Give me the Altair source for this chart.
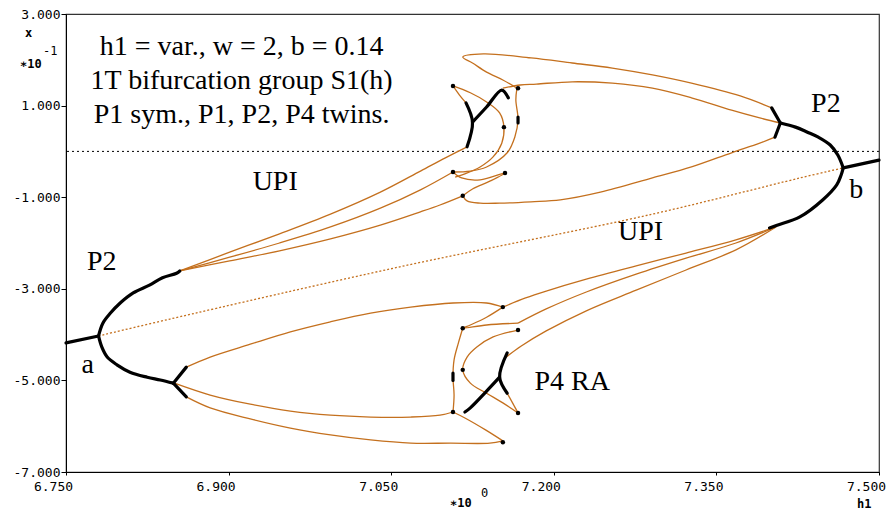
import altair as alt
import pandas as pd

# ---------------- data (h1, x*10) ----------------
# stable branches (black, thick)
p1_left = [(6.750, -4.18), (6.780, -4.03)]
p2_left_up = [(6.780, -4.03), (6.784, -3.75), (6.791, -3.53), (6.800, -3.31), (6.812, -3.09), (6.827, -2.92),
              (6.839, -2.76), (6.852, -2.66), (6.855, -2.61)]
p2_left_dn = [(6.780, -4.03), (6.783, -4.27), (6.788, -4.49), (6.797, -4.66), (6.809, -4.82), (6.825, -4.93),
              (6.837, -4.99), (6.849, -5.06)]
pd_left_up = [(6.849, -5.06), (6.861, -4.71)]
pd_left_dn = [(6.849, -5.06), (6.861, -5.36)]
p1_right = [(7.467, -0.36), (7.500, -0.19)]
p2_right_up = [(7.467, -0.36), (7.462, -0.08), (7.455, 0.14), (7.444, 0.31), (7.434, 0.42), (7.423, 0.53), (7.409, 0.62)]
p2_right_dn = [(7.467, -0.36), (7.465, -0.52), (7.461, -0.73), (7.448, -1.06), (7.427, -1.43), (7.406, -1.61), (7.399, -1.67)]
pd_right_up = [(7.409, 0.62), (7.401, 0.95)]
pd_right_dn = [(7.409, 0.62), (7.404, 0.31)]
p4_up_stem = [(7.120, 0.10), (7.125, 0.64), (7.119, 1.06)]
p4_up_arm = [(7.125, 0.64), (7.138, 0.97), (7.152, 1.34), (7.158, 1.17)]
p4_up_fold = [(7.167, 0.75), (7.167, 0.62)]
p4_lo_stem = [(7.157, -4.40), (7.150, -4.93), (7.157, -5.28)]
p4_lo_arm = [(7.150, -4.93), (7.137, -5.26), (7.123, -5.60), (7.118, -5.69)]
p4_lo_fold = [(7.107, -4.84), (7.107, -5.00)]

# unstable branches (orange, thin)
u_top_outer = [(7.401, 0.95), (7.372, 1.21), (7.327, 1.49), (7.291, 1.67), (7.254, 1.82), (7.217, 1.93), (7.179, 2.04),
               (7.135, 2.13), (7.116, 2.06), (7.125, 1.93), (7.138, 1.73), (7.153, 1.56), (7.166, 1.38)]
u_top_inner = [(7.153, 1.38), (7.169, 1.45), (7.184, 1.47), (7.217, 1.52), (7.254, 1.49), (7.291, 1.38), (7.327, 1.17),
               (7.364, 0.90), (7.390, 0.73), (7.409, 0.62)]
u_cres_outer = [(7.166, 1.38), (7.165, 1.12), (7.167, 0.69), (7.164, 0.31), (7.157, -0.03), (7.138, -0.34), (7.123, -0.43), (7.107, -0.45)]
u_cres_inner = [(7.107, 1.43), (7.123, 1.28), (7.138, 1.08), (7.150, 0.84), (7.154, 0.53), (7.152, 0.18), (7.144, -0.12),
                (7.132, -0.34), (7.118, -0.49), (7.109, -0.56)]
u_arm_link = [(7.107, 1.43), (7.113, 1.23), (7.119, 1.06)]
u_zigzag = [(7.107, -0.45), (7.115, -0.58), (7.132, -0.62), (7.155, -0.47), (7.141, -0.65), (7.125, -0.82), (7.116, -0.97)]
u_bottom = [(7.404, 0.31), (7.390, 0.18), (7.364, -0.03), (7.327, -0.34), (7.291, -0.58), (7.243, -0.89), (7.206, -1.06),
            (7.179, -1.10), (7.150, -1.13), (7.132, -1.13), (7.120, -1.08), (7.116, -0.97)]
u_link_1 = [(6.855, -2.61), (6.901, -2.20), (6.947, -1.80), (6.994, -1.37), (7.040, -0.89), (7.077, -0.43), (7.100, -0.14), (7.120, 0.10)]
u_link_2 = [(6.855, -2.61), (6.901, -2.31), (6.947, -2.00), (6.994, -1.65), (7.040, -1.24), (7.077, -0.84), (7.107, -0.45)]
u_link_3 = [(6.855, -2.61), (6.901, -2.39), (6.947, -2.17), (6.994, -1.91), (7.040, -1.61), (7.077, -1.32), (7.095, -1.17), (7.116, -0.97)]

l_top = [(6.861, -4.71), (6.883, -4.49), (6.920, -4.21), (6.957, -3.94), (6.994, -3.72), (7.031, -3.53), (7.068, -3.40),
         (7.107, -3.31), (7.138, -3.31), (7.153, -3.40)]
l_mid = [(6.850, -5.06), (6.883, -5.32), (6.920, -5.52), (6.957, -5.67), (6.994, -5.76), (7.031, -5.80), (7.068, -5.80),
         (7.095, -5.76), (7.107, -5.69)]
l_low = [(6.861, -5.36), (6.883, -5.60), (6.920, -5.84), (6.957, -6.04), (6.994, -6.19), (7.031, -6.30), (7.068, -6.37),
         (7.105, -6.37), (7.141, -6.37), (7.153, -6.32)]
l_low_back = [(7.153, -6.32), (7.137, -6.08), (7.118, -5.82), (7.107, -5.69)]
l_zigzag = [(7.153, -3.40), (7.138, -3.62), (7.123, -3.79), (7.116, -3.86), (7.138, -3.79), (7.167, -3.75)]
l_cres_outer = [(7.107, -5.69), (7.108, -5.32), (7.107, -4.93), (7.108, -4.55), (7.112, -4.18), (7.116, -3.86)]
l_cres_inner = [(7.167, -5.71), (7.153, -5.49), (7.138, -5.28), (7.123, -5.06), (7.116, -4.77), (7.120, -4.49), (7.129, -4.27),
                (7.144, -4.05), (7.167, -3.90)]
l_arm_link = [(7.157, -5.28), (7.167, -5.71)]
l_link_a = [(7.153, -3.40), (7.174, -3.20), (7.193, -3.05), (7.230, -2.79), (7.276, -2.50), (7.322, -2.22), (7.368, -1.93), (7.405, -1.65)]
l_link_b = [(7.167, -3.75), (7.193, -3.44), (7.230, -3.07), (7.276, -2.68), (7.322, -2.33), (7.368, -2.00), (7.405, -1.65)]
l_link_c = [(7.155, -4.51), (7.170, -4.25), (7.193, -3.92), (7.230, -3.48), (7.276, -3.03), (7.322, -2.59), (7.368, -2.15), (7.405, -1.65)]

# unstable P1 (dotted orange)
upi_p1 = [(6.780, -4.03), (6.846, -3.66), (7.058, -2.52), (7.291, -1.37), (7.427, -0.58), (7.467, -0.36)]

# fold points (black dots)
fold_x = [7.107, 7.167, 7.154, 7.107, 7.155, 7.116, 7.153, 7.116, 7.167, 7.116, 7.107, 7.167, 7.153]
fold_y = [1.43, 1.38, 0.53, -0.45, -0.47, -0.97, -3.40, -3.86, -3.90, -4.77, -5.69, -5.71, -6.35]

# text annotations in data coordinates
note_text = ["h1 = var., w = 2, b = 0.14", "1T bifurcation group S1(h)", "P1 sym., P1, P2, P4 twins.",
             "UPI", "P2", "a", "P2", "b", "UPI", "P4 RA"]
note_x = [6.912, 6.912, 6.912, 6.943, 6.783, 6.770, 7.451, 7.479, 7.280, 7.217]
note_y = [2.105, 1.362, 0.620, -0.84, -2.59, -4.84, 0.86, -1.02, -1.93, -5.21]

x_ticks = [6.75, 6.90, 7.05, 7.20, 7.35, 7.50]
y_ticks = [-7, -5, -3, -1, 1, 3]

# ---------------- build tables ----------------
black_curves = {"p1_left": p1_left, "p2_left_up": p2_left_up, "p2_left_dn": p2_left_dn, "pd_left_up": pd_left_up,
                "pd_left_dn": pd_left_dn, "p1_right": p1_right, "p2_right_up": p2_right_up, "p2_right_dn": p2_right_dn,
                "pd_right_up": pd_right_up, "pd_right_dn": pd_right_dn, "p4_up_stem": p4_up_stem, "p4_up_arm": p4_up_arm,
                "p4_up_fold": p4_up_fold, "p4_lo_stem": p4_lo_stem, "p4_lo_arm": p4_lo_arm, "p4_lo_fold": p4_lo_fold}
orange_curves = {"u_top_outer": u_top_outer, "u_top_inner": u_top_inner, "u_cres_outer": u_cres_outer,
                 "u_cres_inner": u_cres_inner, "u_arm_link": u_arm_link, "u_zigzag": u_zigzag, "u_bottom": u_bottom,
                 "u_link_1": u_link_1, "u_link_2": u_link_2, "u_link_3": u_link_3, "l_top": l_top, "l_mid": l_mid,
                 "l_low": l_low, "l_low_back": l_low_back, "l_zigzag": l_zigzag, "l_cres_outer": l_cres_outer,
                 "l_cres_inner": l_cres_inner, "l_arm_link": l_arm_link, "l_link_a": l_link_a, "l_link_b": l_link_b,
                 "l_link_c": l_link_c}
dotted_curves = {"upi_p1": upi_p1}


def table(curves):
    rows = []
    for name, pts in curves.items():
        for i, (hx, xv) in enumerate(pts):
            rows.append({"seg": name, "order": i, "h1": hx, "x": xv})
    return pd.DataFrame(rows)


df_black = table(black_curves)
df_orange = table(orange_curves)
df_dotted = table(dotted_curves)
df_fold = pd.DataFrame({"h1": fold_x, "x": fold_y})
df_notes = pd.DataFrame({"t": note_text, "h1": note_x, "x": note_y})

ORANGE = "#C4701E"
MONO = "DejaVu Sans Mono"

xs = alt.Scale(domain=[6.75, 7.5], nice=False, zero=False)
ys = alt.Scale(domain=[-7, 3], nice=False, zero=False)

minus_fix = "replace(format(datum.value, '.3f'), '\u2212', '-')"

X = alt.X("h1:Q", scale=xs, title=None,
          axis=alt.Axis(values=x_ticks, labelExpr=minus_fix, grid=False, tickSize=3, labelPadding=5,
                        labelOffset=-13, labelFont=MONO, labelFontSize=13, labelColor="black",
                        domainColor="black", tickColor="black", labelFlush=False))
Y = alt.Y("x:Q", scale=ys, title=None,
          axis=alt.Axis(values=y_ticks, labelExpr=minus_fix, grid=False, tickSize=5, labelPadding=1,
                        labelFont=MONO, labelFontSize=13, labelColor="black",
                        domainColor="black", tickColor="black"))

orange = alt.Chart(df_orange).mark_line(color=ORANGE, strokeWidth=1.3, strokeJoin="round",
                                        interpolate="catmull-rom").encode(
    x=X, y=Y, detail="seg:N", order="order:Q")
dotted = alt.Chart(df_dotted).mark_line(color=ORANGE, strokeWidth=1.3, strokeDash=[2, 2],
                                        interpolate="catmull-rom").encode(
    x=X, y=Y, detail="seg:N", order="order:Q")
zero_line = alt.Chart(pd.DataFrame({"x": [0.0]})).mark_rule(color="black", strokeWidth=1, strokeDash=[2, 3]).encode(
    y=alt.Y("x:Q", scale=ys))
black = alt.Chart(df_black).mark_line(color="black", strokeWidth=3.2, strokeJoin="round", strokeCap="round",
                                      interpolate="catmull-rom").encode(
    x=X, y=Y, detail="seg:N", order="order:Q")
folds = alt.Chart(df_fold).mark_circle(color="black", size=20, opacity=1).encode(x=X, y=Y)
notes = alt.Chart(df_notes).mark_text(font="Liberation Serif", fontSize=28, align="center",
                                      baseline="alphabetic", color="black").encode(
    x=alt.X("h1:Q", scale=xs), y=alt.Y("x:Q", scale=ys), text="t:N")

# axis unit captions (outside the plot area)
cap_text = ["x", "\u221710", "-1", "\u221710", "0", "h1"]
cap_px = [-41, -46, -23, 384, 415, 791]
cap_py = [23, 54, 41, 493, 483, 494]
cap_bold = ["bold", "bold", "normal", "bold", "normal", "bold"]
caps = alt.layer(*[
    alt.Chart(pd.DataFrame({"t": [t]})).mark_text(font=MONO, fontSize=12, fontWeight=w, align="left",
                                                   baseline="alphabetic", color="black").encode(
        x=alt.value(px), y=alt.value(py), text="t:N")
    for t, px, py, w in zip(cap_text, cap_px, cap_py, cap_bold)
])

chart = alt.layer(zero_line, dotted, orange, black, folds, notes, caps).properties(
    width=813, height=458,
    autosize=alt.AutoSizeParams(type="none"),
    padding={"left": 66, "top": 14, "right": 7, "bottom": 42},
    background="white",
).configure_view(stroke="#333", strokeWidth=1.2)

chart.save("out.html", embed_options={"renderer": "svg", "actions": False})
